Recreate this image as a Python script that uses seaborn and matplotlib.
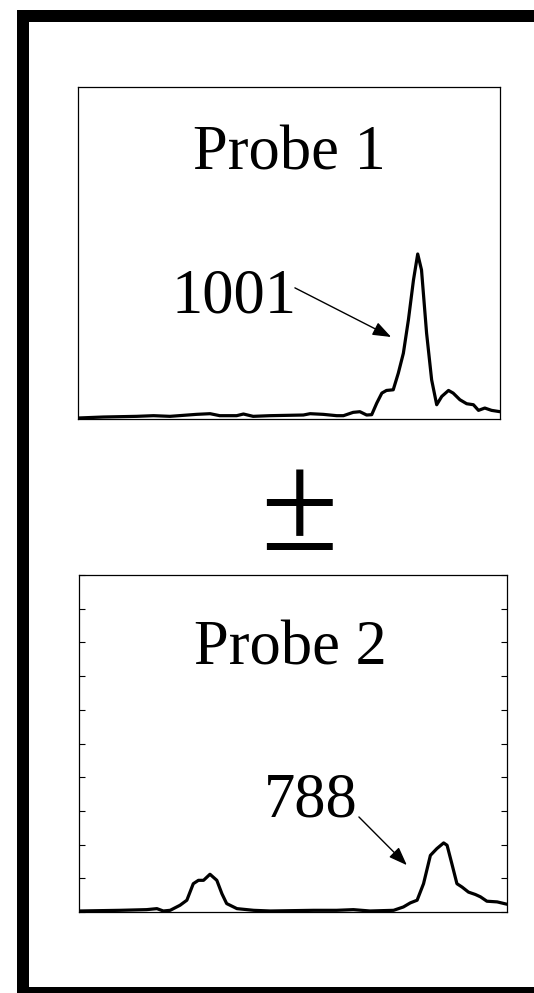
import matplotlib
matplotlib.use("Agg")
import matplotlib.pyplot as plt
from matplotlib.patches import Rectangle
import seaborn as sns
import pandas as pd

# ---- data (x and y in % of panel range) ----
probe1_x = [0, 6.0, 13.9, 17.9, 21.8, 28.1, 31.3, 33.6, 37.6, 39.2, 41.5, 45.5, 53.4, 55.0,
            58.1, 61.3, 62.9, 65.2, 66.8, 68.4, 69.6, 70.8, 72.0, 73.1, 74.7, 75.9, 77.1,
            78.3, 79.5, 80.5, 81.4, 82.6, 83.8, 85.0, 86.2, 87.8, 88.9, 90.5, 92.1, 93.7,
            94.9, 96.4, 98.0, 100]
probe1_y = [0.3, 0.6, 0.8, 1.0, 0.8, 1.4, 1.6, 1.0, 1.0, 1.5, 0.8, 1.0, 1.2, 1.6,
            1.4, 1.0, 1.0, 2.0, 2.2, 1.2, 1.3, 4.8, 7.8, 8.6, 8.8, 13.8, 19.8,
            29.9, 41.9, 49.7, 44.9, 25.9, 11.8, 4.3, 6.8, 8.6, 7.8, 5.8, 4.6, 4.3,
            2.6, 3.3, 2.6, 2.2]

probe2_x = [0, 9.6, 15.8, 18.2, 19.7, 21.3, 23.6, 25.2, 26.7, 27.9, 29.1, 30.6, 32.2, 33.4,
            34.5, 36.9, 40.8, 44.7, 54.8, 60.2, 64.1, 68.0, 73.5, 75.8, 77.4, 79.0, 80.5,
            82.1, 83.6, 85.2, 86.0, 87.1, 88.3, 89.5, 91.0, 92.6, 93.8, 95.3, 97.7, 100]
probe2_y = [0.3, 0.5, 0.7, 1.0, 0.3, 0.5, 2.0, 3.5, 8.4, 9.4, 9.4, 11.2, 9.4, 5.4,
            2.5, 1.0, 0.5, 0.3, 0.5, 0.5, 0.7, 0.3, 0.5, 1.5, 2.7, 3.5, 8.4,
            16.8, 18.8, 20.5, 19.8, 14.4, 8.4, 7.4, 5.9, 5.2, 4.5, 3.2, 3.0, 2.3]

titles = ["Probe 1", "Probe 2"]
peak_labels = ["1001", "788"]
operator = "\u00b1"

sns.set_style("white")
plt.rcParams["font.family"] = ["Liberation Serif", "DejaVu Serif"]
plt.rcParams["text.color"] = "black"

W, H = 534, 993
fig = plt.figure(figsize=(W / 100, H / 100), dpi=100)

# outer thick frame (cut at right and bottom)
fig.add_artist(Rectangle((23 / W, 0), 1.2, 1 - 16 / H, transform=fig.transFigure,
                         fill=False, edgecolor="black", lw=12 * 72 / 100,
                         joinstyle="miter", clip_on=False))

ax1 = fig.add_axes([78 / W, 1 - 419 / H, 422 / W, 332 / H])
ax2 = fig.add_axes([79 / W, 1 - 912 / H, 428 / W, 337 / H])

df1 = pd.DataFrame({"x": probe1_x, "y": probe1_y})
df2 = pd.DataFrame({"x": probe2_x, "y": probe2_y})

for ax, df in [(ax1, df1), (ax2, df2)]:
    sns.lineplot(data=df, x="x", y="y", ax=ax, color="black", lw=2.3,
                 sort=False, estimator=None)
    ax.set_xlim(0, 100)
    ax.set_ylim(0, 100)
    ax.set_xlabel("")
    ax.set_ylabel("")
    ax.set_xticks([])
    for s in ax.spines.values():
        s.set_visible(True)
        s.set_color("black")
        s.set_linewidth(0.9)
    ax.patch.set_facecolor("white")

ax1.set_yticks([])
ax2.set_yticks(range(0, 101, 10))
ax2.tick_params(axis="y", direction="in", left=True, right=True, length=4,
                width=0.8, color="black", labelleft=False, labelright=False)

fs = 45
ax1.text(0.5, 0.753, titles[0], transform=ax1.transAxes, ha="center",
         va="baseline", fontsize=fs, color="black")
ax2.text(0.493, 0.733, titles[1], transform=ax2.transAxes, ha="center",
         va="baseline", fontsize=fs, color="black")

ax1.text(0.37, 0.322, peak_labels[0], transform=ax1.transAxes, ha="center",
         va="baseline", fontsize=fs, color="black")
ax2.text(0.542, 0.282, peak_labels[1], transform=ax2.transAxes, ha="center",
         va="baseline", fontsize=fs, color="black")

arrow = dict(arrowstyle="-|>,head_length=0.8,head_width=0.3", color="black",
             lw=1.0, mutation_scale=14, shrinkA=0, shrinkB=0)
ax1.annotate("", xy=(74.2, 24.7), xytext=(51.4, 39.5), arrowprops=arrow)
ax2.annotate("", xy=(76.6, 13.9), xytext=(65.4, 28.2), arrowprops=arrow)

fig.text(299 / W, 1 - 550 / H, operator, ha="center", va="baseline", fontsize=102,
         color="black")

fig.savefig("out.png", dpi=100, facecolor="white")
